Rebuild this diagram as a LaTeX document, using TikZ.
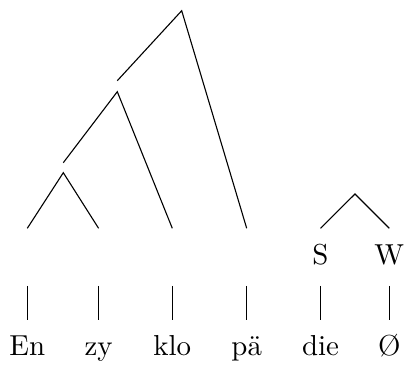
\documentclass[tikz,border=0pt]{standalone}
\begin{document}
\begin{tikzpicture}[x=0.3636pt,y=-0.3636pt,
  branch/.style={line width=0.4pt},
  word/.style={anchor=base,inner sep=0pt,font=\fontsize{10.5}{12}\selectfont}]
\useasboundingbox (0,0) rectangle (408,365);
% tree points
\coordinate (r) at (181.7,10.7);
\coordinate (rl) at (117.3,80.7);
\coordinate (rr) at (246.7,228.3);
\coordinate (a) at (117.3,91.7);
\coordinate (al) at (63.3,162.7);
\coordinate (ar) at (172.3,228.3);
\coordinate (b) at (63.3,172.7);
\coordinate (bl) at (27.3,228.3);
\coordinate (br) at (98.6,228.3);
\coordinate (c) at (355,194);
\coordinate (cl) at (320.5,228.3);
\coordinate (cr) at (389.3,228.3);
\draw[branch] (rl) -- (r) -- (rr);
\draw[branch] (al) -- (a) -- (ar);
\draw[branch] (bl) -- (b) -- (br);
\draw[branch] (cl) -- (c) -- (cr);
% S W labels
\node[word] (s) at (320.5,264.5) {S};
\node[word] (w) at (389.3,264.5) {W};
% vertical bars and words
\foreach \n/\x/\t in {1/27.3/En,2/98.6/zy,3/172.3/klo,4/246.7/pä,5/320.5/die,6/389.3/\O}{
  \coordinate (t\n) at (\x,286);
  \coordinate (u\n) at (\x,320);
  \draw[branch] (t\n) -- (u\n);
  \node[word] (w\n) at (\x,356) {\t};
}
\end{tikzpicture}
\end{document}
